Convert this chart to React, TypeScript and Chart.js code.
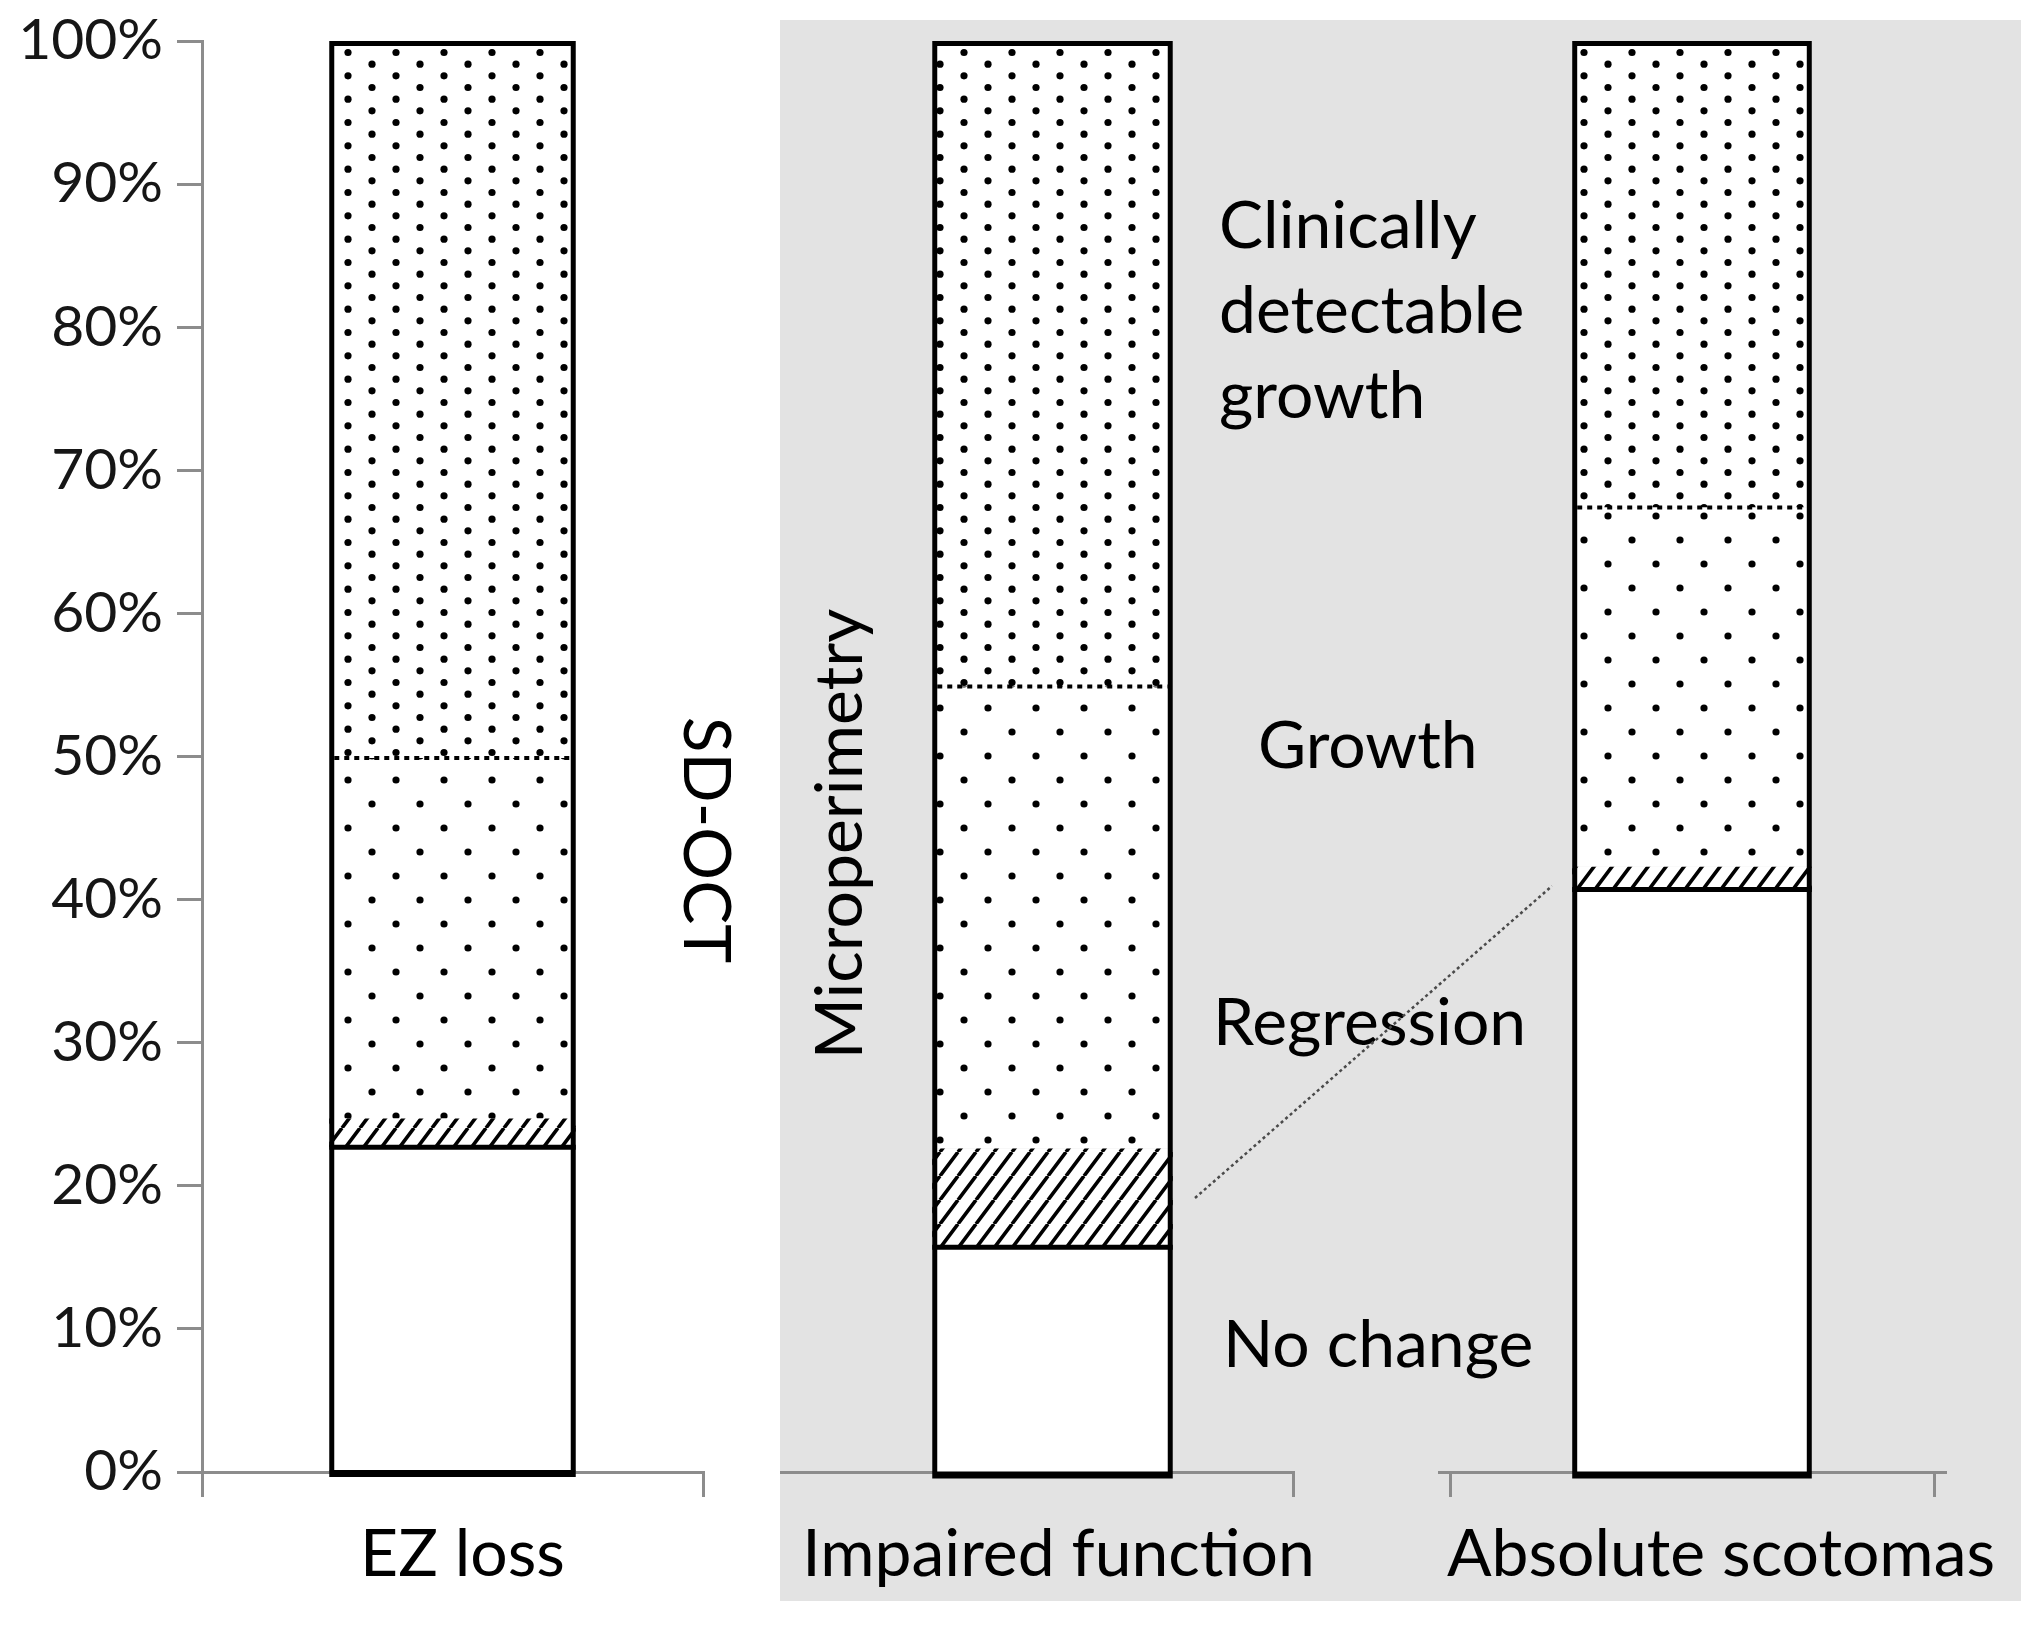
import React, { useEffect, useRef } from 'react';
import { Chart, registerables } from 'chart.js';

Chart.register(...registerables);

// ---------- data ----------
const categories = ['EZ loss', 'Impaired function', 'Absolute scotomas'];
const seriesNames = ['No change', 'Regression', 'Growth', 'Clinically detectable growth'];
const noChange = [22.7, 15.7, 40.7];
const regression = [2.0, 6.9, 1.6];
const growth = [25.2, 32.3, 25.1];
const clinical = [50.1, 45.1, 32.6];
const yMin = 0;
const yMax = 100;
const yStep = 10;

// ---------- styles ----------
const FONT = 'Lato';
const TICK_PX = 57;
const LABEL_PX = 66;
const AXIS = '#8c8c8c';
const TEXT = '#000000';
const PANEL = '#e3e3e3';
const TOP = 41; // canvas y of 100%
const XAXIS_H = 157; // from 0% line to canvas bottom

function dotPattern(w: number, h: number, rows: number) {
  const c = document.createElement('canvas');
  c.width = w;
  c.height = h;
  const g = c.getContext('2d')!;
  g.fillStyle = '#fff';
  g.fillRect(0, 0, w, h);
  g.fillStyle = '#000';
  const rh = h / rows;
  for (let k = 0; k < rows; k++) {
    const y = (k + 0.5) * rh;
    const x = k % 2 === 0 ? w / 4 : (3 * w) / 4;
    g.beginPath();
    g.arc(x, y, 3.6, 0, Math.PI * 2);
    g.fill();
  }
  return g.createPattern(c, 'repeat')!;
}

function hatchPattern(w: number, h: number) {
  const c = document.createElement('canvas');
  c.width = w;
  c.height = h;
  const g = c.getContext('2d')!;
  g.fillStyle = '#fff';
  g.fillRect(0, 0, w, h);
  g.strokeStyle = '#000';
  g.lineWidth = 3.6;
  g.beginPath();
  for (const o of [-w, 0, w]) {
    g.moveTo(o, h);
    g.lineTo(o + w, 0);
  }
  g.stroke();
  return g.createPattern(c, 'repeat')!;
}

function align(p: number, w: number) {
  const hw = w / 2;
  return Math.round(p - hw) + hw;
}

const outlinePlugin = {
  id: 'barOutline',
  afterDatasetsDraw(chart: any) {
    const ctx = chart.ctx;
    const metas = [0, 1, 2, 3].map((i) => chart.getDatasetMeta(i));
    const n = metas[0].data.length;
    for (let j = 0; j < n; j++) {
      const e0 = metas[0].data[j];
      const e2 = metas[2].data[j];
      const e3 = metas[3].data[j];
      const L = e0.x - e0.width / 2;
      const R = e0.x + e0.width / 2;
      const top = e3.y;
      const base = e0.base;
      ctx.save();
      ctx.strokeStyle = '#000';
      ctx.lineCap = 'butt';
      ctx.lineJoin = 'miter';
      // outer frame
      ctx.lineWidth = 5;
      ctx.beginPath();
      ctx.moveTo(L + 2.5, base);
      ctx.lineTo(L + 2.5, top + 2.5);
      ctx.lineTo(R - 2.5, top + 2.5);
      ctx.lineTo(R - 2.5, base);
      ctx.stroke();
      // top of "No change"
      ctx.beginPath();
      ctx.moveTo(L, e0.y);
      ctx.lineTo(R, e0.y);
      ctx.stroke();
      // dotted boundary between growth and clinically detectable growth
      ctx.lineWidth = 4;
      ctx.setLineDash([5, 5]);
      ctx.beginPath();
      ctx.moveTo(L + 5, e2.y);
      ctx.lineTo(R - 5, e2.y);
      ctx.stroke();
      // thick base line
      ctx.setLineDash([]);
      ctx.lineWidth = 7;
      ctx.beginPath();
      ctx.moveTo(L, base + 3);
      ctx.lineTo(R, base + 3);
      ctx.stroke();
      ctx.restore();
    }
  },
};

function buildChart(canvas: HTMLCanvasElement, idx: number, opt: any) {
  const hatch = hatchPattern(18, 24);
  const growthPat = dotPattern(48, 48, 2);
  const clinPat = dotPattern(48, 70, 6);
  return new Chart(canvas, {
    type: 'bar',
    data: {
      labels: [categories[idx]],
      datasets: [
        { label: seriesNames[0], data: [noChange[idx]], backgroundColor: '#ffffff', borderWidth: 0 },
        { label: seriesNames[1], data: [regression[idx]], backgroundColor: hatch, borderWidth: 0 },
        { label: seriesNames[2], data: [growth[idx]], backgroundColor: growthPat, borderWidth: 0 },
        { label: seriesNames[3], data: [clinical[idx]], backgroundColor: clinPat, borderWidth: 0 },
      ],
    },
    options: {
      responsive: false,
      animation: false,
      devicePixelRatio: 1,
      layout: { padding: { left: opt.padLeft, right: opt.padRight, top: TOP, bottom: 0 } },
      plugins: { legend: { display: false }, tooltip: { enabled: false } },
      datasets: { bar: { categoryPercentage: 1, barPercentage: opt.barPct } },
      scales: {
        x: {
          stacked: true,
          offset: true,
          border: { display: true, color: AXIS, width: 3 },
          grid: {
            offset: true,
            drawOnChartArea: false,
            drawTicks: true,
            tickLength: 25,
            lineWidth: 3,
            color: opt.xGridColor || AXIS,
          },
          ticks: {
            color: TEXT,
            font: { family: FONT, size: LABEL_PX },
            padding: 18,
            maxRotation: 0,
            minRotation: 0,
            autoSkip: false,
            labelOffset: opt.labelOffset,
          },
          afterFit: (s: any) => {
            s.height = XAXIS_H;
            s.paddingLeft = 0;
            s.paddingRight = 0;
          },
        },
        y: {
          stacked: true,
          min: yMin,
          max: yMax,
          display: opt.showY,
          border: { display: true, color: AXIS, width: 3 },
          grid: { drawOnChartArea: false, drawTicks: true, tickLength: 25, lineWidth: 3, color: AXIS },
          ticks: {
            stepSize: yStep,
            color: '#161616',
            padding: 14,
            font: { family: FONT, size: TICK_PX, lineHeight: 0.8 },
            callback: (v: any) => v + '%',
          },
          afterFit: (s: any) => {
            s.width = opt.showY ? 202 : 0;
            s.paddingTop = 0;
            s.paddingBottom = 0;
          },
        },
      },
    } as any,
    plugins: [outlinePlugin, ...(opt.plugins || [])],
  });
}

const sdOctPlugin = {
  id: 'sdoct',
  afterDraw(chart: any) {
    const ctx = chart.ctx;
    ctx.save();
    ctx.font = `${LABEL_PX}px ${FONT}`;
    ctx.fillStyle = TEXT;
    ctx.translate(684, 840);
    ctx.rotate(Math.PI / 2);
    ctx.textAlign = 'center';
    ctx.textBaseline = 'alphabetic';
    ctx.fillText('SD-OCT', 0, 0);
    ctx.restore();
  },
};

const C2_LEFT = 760;
const C3_LEFT = 1380;

const midPlugin = {
  id: 'midAnnot',
  afterDraw(chart: any) {
    const ctx = chart.ctx;
    const ox = C2_LEFT;
    const a = chart.chartArea;
    ctx.save();
    // axis extension to the panel edge
    const yb = align(a.bottom, 3);
    ctx.strokeStyle = AXIS;
    ctx.lineWidth = 3;
    ctx.beginPath();
    ctx.moveTo(780 - ox, yb);
    ctx.lineTo(a.left, yb);
    ctx.stroke();
    // segment labels
    ctx.fillStyle = TEXT;
    ctx.font = `${LABEL_PX}px ${FONT}`;
    ctx.textAlign = 'left';
    ctx.textBaseline = 'alphabetic';
    ctx.fillText('Clinically', 1219 - ox, 248);
    ctx.fillText('detectable', 1219 - ox, 333);
    ctx.fillText('growth', 1219 - ox, 418);
    ctx.fillText('Growth', 1258 - ox, 768);
    ctx.fillText('Regression', 1213 - ox, 1045);
    ctx.fillText('No change', 1223 - ox, 1367);
    // leader line
    ctx.strokeStyle = '#4a4a4a';
    ctx.lineWidth = 2.5;
    ctx.setLineDash([3, 3]);
    ctx.beginPath();
    ctx.moveTo(1195 - ox, 1198);
    ctx.lineTo(1552 - ox, 886);
    ctx.stroke();
    ctx.setLineDash([]);
    // rotated panel title
    ctx.translate(862 - ox, 834);
    ctx.rotate(-Math.PI / 2);
    ctx.textAlign = 'center';
    ctx.fillText('Microperimetry', 0, 0);
    ctx.restore();
  },
};

const rightPlugin = {
  id: 'rightAxisExt',
  afterDraw(chart: any) {
    const ctx = chart.ctx;
    const a = chart.chartArea;
    const yb = align(a.bottom, 3);
    ctx.save();
    ctx.strokeStyle = AXIS;
    ctx.lineWidth = 3;
    ctx.beginPath();
    ctx.moveTo(a.left - 12, yb);
    ctx.lineTo(a.left, yb);
    ctx.moveTo(a.right, yb);
    ctx.lineTo(a.right + 13, yb);
    ctx.stroke();
    ctx.restore();
  },
};

export default function App() {
  const c1 = useRef<HTMLCanvasElement>(null);
  const c2 = useRef<HTMLCanvasElement>(null);
  const c3 = useRef<HTMLCanvasElement>(null);

  useEffect(() => {
    const charts = [
      buildChart(c1.current!, 0, {
        padLeft: 0,
        padRight: 760 - 703,
        barPct: 0.492,
        showY: true,
        labelOffset: 10,
        plugins: [sdOctPlugin],
      }),
      buildChart(c2.current!, 1, {
        padLeft: 812 - C2_LEFT,
        padRight: C2_LEFT + 800 - 1293,
        barPct: 0.5,
        showY: false,
        labelOffset: 6,
        xGridColor: (ctx: any) => (ctx.index === 0 ? 'rgba(0,0,0,0)' : AXIS),
        plugins: [midPlugin],
      }),
      buildChart(c3.current!, 2, {
        padLeft: 1450 - C3_LEFT,
        padRight: 2040 - 1934,
        barPct: 0.495,
        showY: false,
        labelOffset: 29,
        plugins: [rightPlugin],
      }),
    ];
    return () => charts.forEach((c) => c.destroy());
  }, []);

  return (
    <div
      style={{
        position: 'absolute',
        left: 0,
        top: 0,
        width: 2040,
        height: 1629,
        background: '#ffffff',
        overflow: 'hidden',
      }}
    >
      <div style={{ position: 'absolute', left: 780, top: 20, width: 1241, height: 1581, background: PANEL }} />
      <canvas ref={c1} width={760} height={1629} style={{ position: 'absolute', left: 0, top: 0 }} />
      <canvas ref={c2} width={800} height={1629} style={{ position: 'absolute', left: C2_LEFT, top: 0 }} />
      <canvas ref={c3} width={660} height={1629} style={{ position: 'absolute', left: C3_LEFT, top: 0 }} />
    </div>
  );
}
